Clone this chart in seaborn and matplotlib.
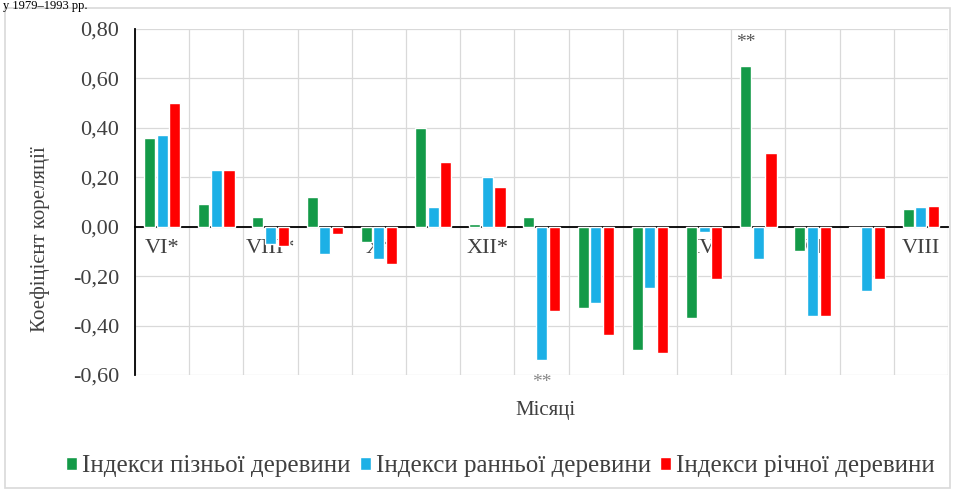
import numpy as np
import pandas as pd
import matplotlib
matplotlib.use("Agg")
import matplotlib.pyplot as plt
import seaborn as sns

# =====================================================
# Data: correlation of tree-ring indices with monthly values
# =====================================================
months = ["VI*", "VII*", "VIII*", "IX*", "X*", "XI*", "XII*",
          "I", "II", "III", "IV", "V", "VI", "VII", "VIII"]
shown_labels = ["VI*", "", "VIII*", "", "X*", "", "XII*",
                "", "II", "", "IV", "", "VI", "", "VIII"]

late_wood = [0.36, 0.09, 0.04, 0.12, -0.06, 0.40, 0.01,
             0.04, -0.33, -0.50, -0.37, 0.65, -0.10, -0.005, 0.07]
early_wood = [0.37, 0.23, -0.07, -0.11, -0.13, 0.08, 0.20,
              -0.54, -0.31, -0.25, -0.02, -0.13, -0.36, -0.26, 0.08]
annual_wood = [0.50, 0.23, -0.08, -0.03, -0.15, 0.26, 0.16,
               -0.34, -0.44, -0.51, -0.21, 0.30, -0.36, -0.21, 0.085]

series_names = ["Індекси пізньої деревини",
                "Індекси ранньої деревини",
                "Індекси річної деревини"]
colors = ["#139a48", "#1cb0e6", "#ff0000"]

yticks = [-0.6, -0.4, -0.2, 0.0, 0.2, 0.4, 0.6, 0.8]
ytick_labels = ["-0,60", "-0,40", "-0,20", "0,00", "0,20", "0,40", "0,60", "0,80"]

df = pd.DataFrame({
    "Місяць": months * 3,
    "Серія": [series_names[0]] * 15 + [series_names[1]] * 15 + [series_names[2]] * 15,
    "Значення": late_wood + early_wood + annual_wood,
})

# =====================================================
# Plot
# =====================================================
sns.set_style("white")
plt.rcParams["font.family"] = ["Liberation Serif", "DejaVu Serif"]
text_col = "#404040"

fig = plt.figure(figsize=(9.55, 4.96), dpi=100)
ax = fig.add_axes([0.1414, 0.244, 0.8513, 0.6975])

sns.barplot(data=df, x="Місяць", y="Значення", hue="Серія",
            hue_order=series_names, order=months, palette=colors,
            saturation=1, width=0.7, gap=0.12, ax=ax, zorder=3)

ax.set_xlim(-0.5, len(months) - 0.5)
ax.set_ylim(-0.6, 0.8)
ax.set_yticks(yticks)
ax.set_yticklabels(ytick_labels, fontsize=16, color=text_col)
ax.set_xticks(np.arange(-0.5, len(months), 1))
ax.set_xticklabels([])

ax.grid(True, color="#d9d9d9", linewidth=0.9, zorder=0)
ax.set_axisbelow(True)

for s in ["top", "right"]:
    ax.spines[s].set_visible(False)
ax.spines["left"].set_color("black")
ax.spines["left"].set_linewidth(1.3)
ax.spines["bottom"].set_position(("data", 0))
ax.spines["bottom"].set_color("black")
ax.spines["bottom"].set_linewidth(1.3)
ax.tick_params(axis="y", direction="inout", length=9, width=1.3, color="black", pad=7)
ax.tick_params(axis="x", direction="inout", length=9, width=1.3, color="black")

# month labels just under the zero line
for i, lab in enumerate(shown_labels):
    if lab:
        ax.text(i, -0.088, lab, ha="center", va="center", fontsize=16,
                color=text_col, zorder=2)

# significance marks
ax.text(11 - 0.23, 0.745, "**", ha="center", va="center", fontsize=14, color="#555555")
ax.text(7, -0.63, "**", ha="center", va="center", fontsize=14, color="#888888",
        clip_on=False)

ax.set_xlabel("")
ax.set_ylabel("Коефіцієнт кореляції", fontsize=15, color=text_col)
ax.yaxis.set_label_coords(-0.105, 0.393)
fig.text(0.571, 0.172, "Місяці", ha="center", va="center", fontsize=15, color=text_col)

ax.legend(loc="center", bbox_to_anchor=(0.524, 0.06), bbox_transform=fig.transFigure,
          ncol=3, frameon=False, prop={"family": "Liberation Serif", "size": 18},
          handlelength=0.45, handleheight=0.45, handletextpad=0.2,
          columnspacing=0.35, labelcolor=text_col)

# chart area border
fig.patches.append(plt.Rectangle((0.005, 0.016), 0.99, 0.968, transform=fig.transFigure,
                                 fill=False, edgecolor="#d9d9d9", linewidth=1.2))

# caption fragment above the chart
fig.text(0.003, 0.999, "у 1979–1993 рр.", ha="left", va="top", fontsize=9, color="black")

plt.savefig("out.png", dpi=100)
plt.close()
